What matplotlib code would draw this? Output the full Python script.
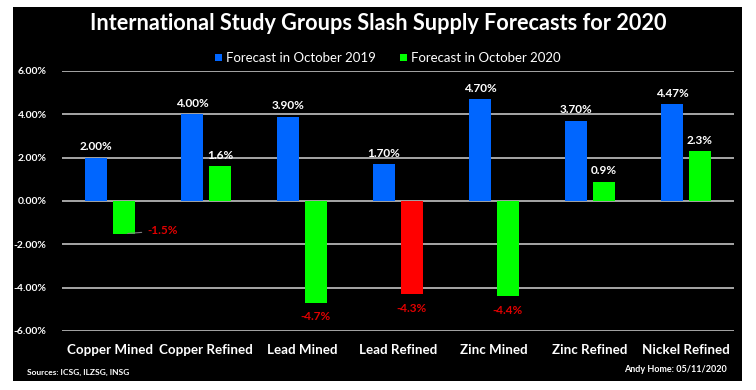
import matplotlib
matplotlib.use("Agg")
import matplotlib.pyplot as plt
import numpy as np
from matplotlib.patches import Rectangle

categories = ["Copper Mined", "Copper Refined", "Lead Mined", "Lead Refined",
              "Zinc Mined", "Zinc Refined", "Nickel Refined"]
forecast_2019 = [2.00, 4.00, 3.90, 1.70, 4.70, 3.70, 4.47]
forecast_2020 = [-1.5, 1.6, -4.7, -4.3, -4.4, 0.9, 2.3]
labels_2019 = ["2.00%", "4.00%", "3.90%", "1.70%", "4.70%", "3.70%", "4.47%"]
labels_2020 = ["-1.5%", "1.6%", "-4.7%", "-4.3%", "-4.4%", "0.9%", "2.3%"]
yticks = [-6, -4, -2, 0, 2, 4, 6]
ytick_labels = ["-6.00%", "-4.00%", "-2.00%", "0.00%", "2.00%", "4.00%", "6.00%"]

BLUE = "#0066FF"
GREEN = "#00FF00"
RED = "#FF0000"
TXT_RED = "#E00000"
FONT = "Lato"

W, H = 756, 390
fig = plt.figure(figsize=(W / 100, H / 100), dpi=100)
fig.patch.set_facecolor("white")
bg = Rectangle((13 / W, (H - 381) / H), (742 - 13) / W, (381 - 7) / H,
               transform=fig.transFigure, facecolor="black", edgecolor="none", zorder=-10)
fig.add_artist(bg)

ax = fig.add_axes([62 / W, (H - 331) / H, (734 - 62) / W, (331 - 71) / H])
ax.set_zorder(1)
ax.set_facecolor("black")

x = np.arange(len(categories))
bw = 0.23
off = 0.145
colors_2020 = [GREEN, GREEN, GREEN, RED, GREEN, GREEN, GREEN]

for yv in yticks:
    ax.axhline(yv, color="#a6a6a6", lw=1.4, zorder=1)

ax.bar(x - off, forecast_2019, bw, color=BLUE, zorder=3)
ax.bar(x + off, forecast_2020, bw, color=colors_2020, zorder=3)

ax.set_xlim(-0.5, len(categories) - 0.5)
ax.set_ylim(-6, 6)
ax.set_yticks(yticks)
ax.set_yticklabels(ytick_labels, fontfamily=FONT, fontweight="bold", fontsize=7.5, color="white")
ax.set_xticks(x)
ax.set_xticklabels(categories, fontfamily=FONT, fontweight="bold", fontsize=9.6, color="white")
ax.tick_params(axis="both", length=0)
ax.tick_params(axis="y", pad=11)
ax.tick_params(axis="x", pad=9)
for s in ax.spines.values():
    s.set_visible(False)

for i, (v, lab) in enumerate(zip(forecast_2019, labels_2019)):
    ax.annotate(lab, (x[i] - off, v), xytext=(0, 4), textcoords="offset points",
                ha="center", va="bottom", color="white", fontfamily=FONT,
                fontweight="bold", fontsize=8.5, zorder=4)

for i, (v, lab) in enumerate(zip(forecast_2020, labels_2020)):
    if v >= 0:
        ax.annotate(lab, (x[i] + off, v), xytext=(0, 4), textcoords="offset points",
                    ha="center", va="bottom", color="white", fontfamily=FONT,
                    fontweight="bold", fontsize=8.5, zorder=4)
    elif i == 0:
        ax.annotate(lab, (x[i] + off + 0.04, v), xytext=(14, 2), textcoords="offset points",
                    ha="left", va="center", color=TXT_RED, fontfamily=FONT,
                    fontweight="bold", fontsize=8.5, zorder=4,
                    arrowprops=dict(arrowstyle="-", color="#808080", lw=0.8,
                                    shrinkA=2, shrinkB=0))
    else:
        ax.annotate(lab, (x[i] + off, v), xytext=(0, -6), textcoords="offset points",
                    ha="center", va="top", color=TXT_RED, fontfamily=FONT,
                    fontweight="bold", fontsize=8.5, zorder=4)

fig.text(378 / W, 1 - 23 / H, "International Study Groups Slash Supply Forecasts for 2020",
         ha="center", va="center", color="white", fontfamily=FONT, fontweight="bold",
         fontsize=15.6)

# legend
leg_items = [(BLUE, "Forecast in October 2019", 215), (GREEN, "Forecast in October 2020", 400)]
for col, txt, px in leg_items:
    fig.add_artist(Rectangle((px / W, 1 - 61 / H), 7 / W, 7 / H,
                             transform=fig.transFigure, facecolor=col, edgecolor="none"))
    fig.text((px + 11) / W, 1 - 57.5 / H, txt, ha="left", va="center", color="white",
             fontfamily=FONT, fontsize=9.5)

fig.text(27 / W, 1 - 372 / H, "Sources: ICSG, ILZSG, INSG", ha="left", va="center",
         color="white", fontfamily=FONT, fontweight="bold", fontsize=6)
fig.text(727 / W, 1 - 370 / H, "Andy Home: 05/11/2020", ha="right", va="center",
         color="white", fontfamily=FONT, fontweight="bold", fontsize=6.5)

fig.savefig("out.png", dpi=100, facecolor=fig.get_facecolor())
